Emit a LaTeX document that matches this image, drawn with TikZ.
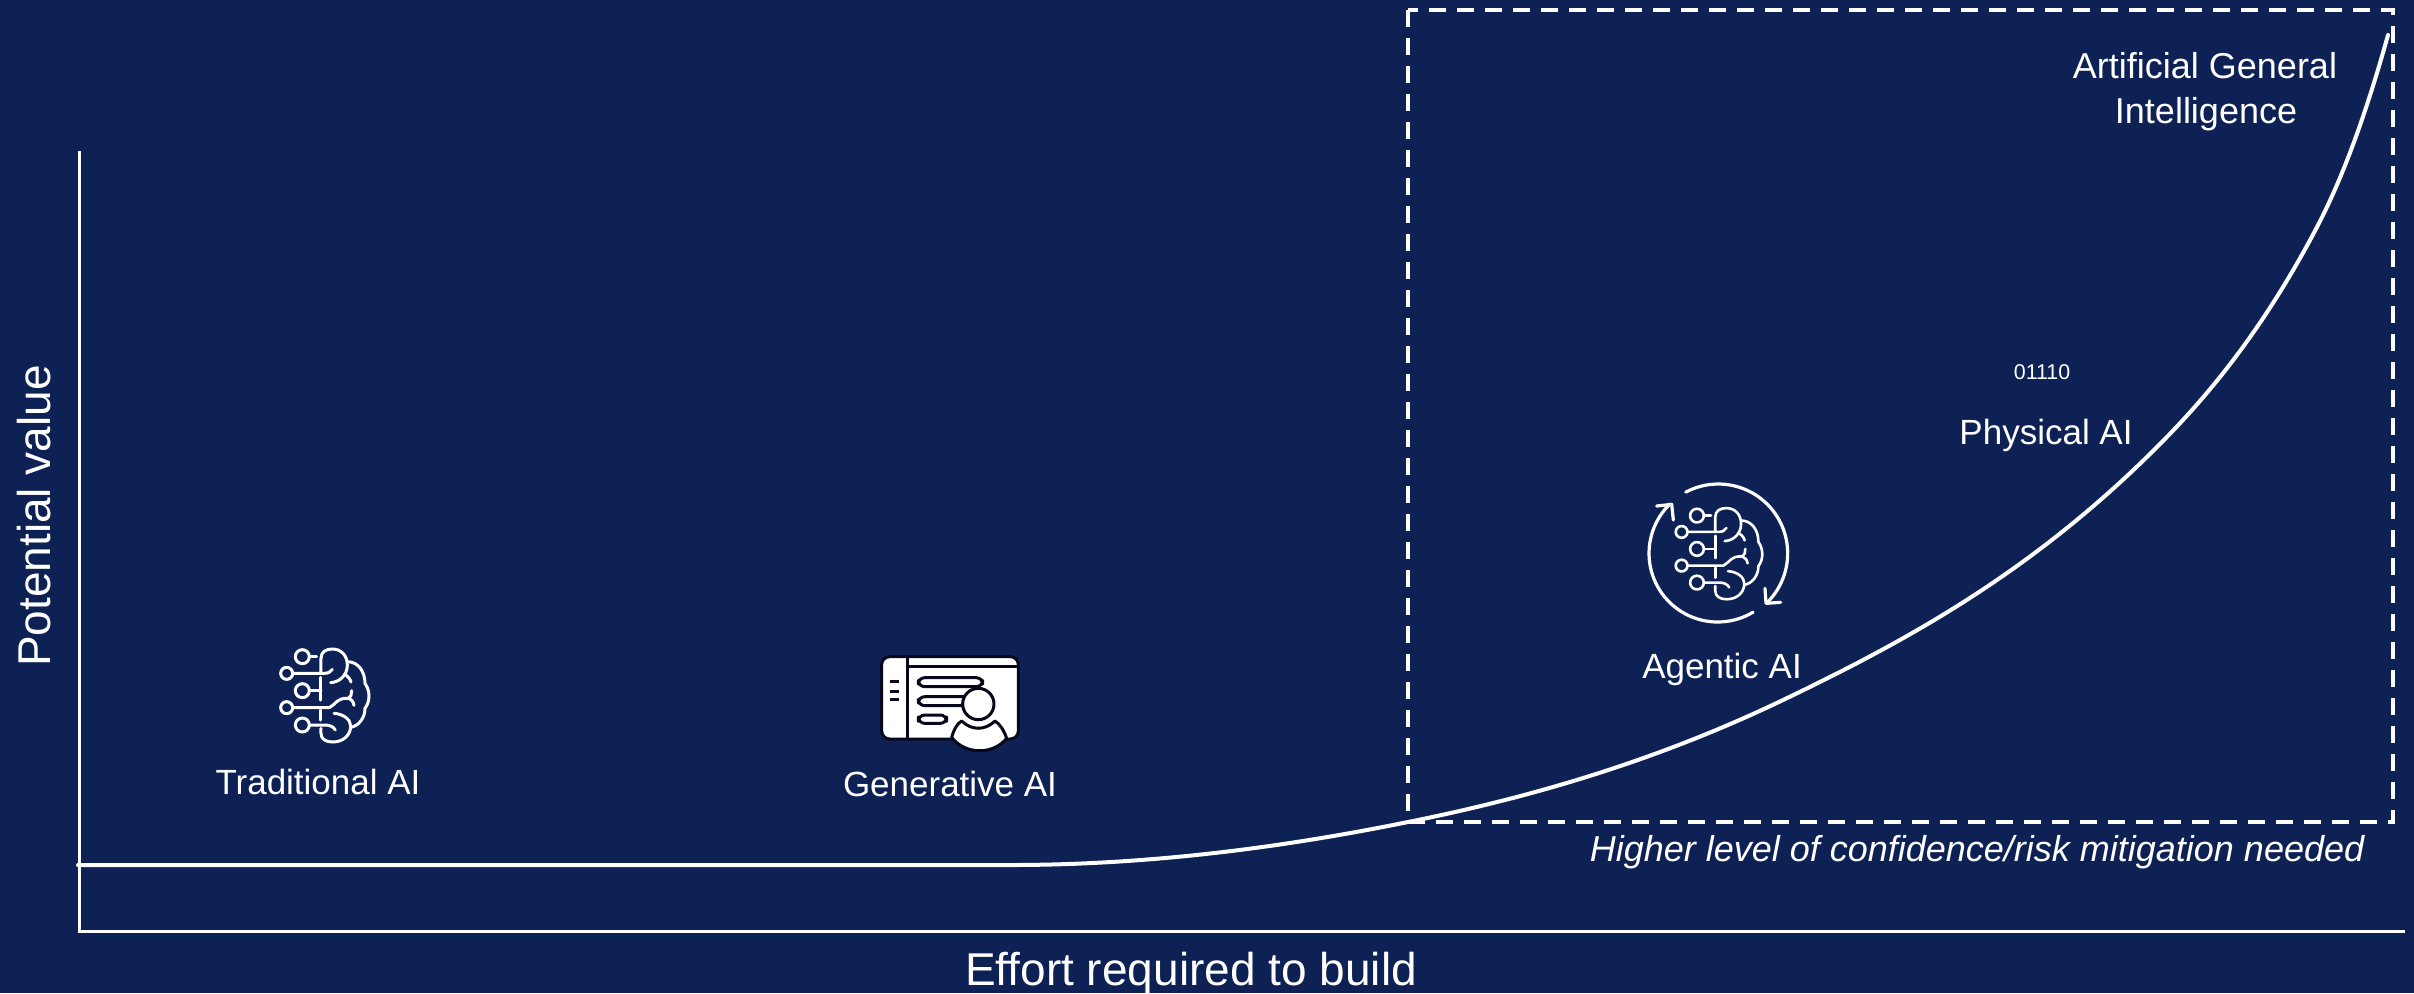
\documentclass[tikz,border=0pt]{standalone}
\usepackage{fontspec}
\setmainfont{Liberation Sans}
\definecolor{navy}{HTML}{0E2154}
\definecolor{ink}{HTML}{08081C}
\newcommand{\mybrain}{%
  \draw (157,110) circle[radius=21] (110,160) circle[radius=18] (157,212) circle[radius=21] (110,263) circle[radius=18] (157,315) circle[radius=21];
  \draw (178,110) -- (200,110);
  \draw (128,160) -- (222,160) .. controls (235,160) and (242,156) .. (247,148);
  \draw (178,212) -- (213,212);
  \draw (128,263) -- (238,263) .. controls (255,255) and (262,232) .. (295,235) .. controls (303,232) and (305,222) .. (305,212);
  \draw (295,235) .. controls (305,238) and (310,245) .. (312,256);
  \draw (178,315) -- (225,315) .. controls (240,315) and (250,320) .. (256,330);
  \draw (213,172) -- (213,240) (213,270) -- (213,300);
  \draw (213,160) -- (213,115) .. controls (213,95) and (228,87) .. (247,87) .. controls (272,87) and (292,105) .. (292,135) .. controls (292,165) and (270,186) .. (242,188);
  \draw (283,163) .. controls (293,168) and (300,175) .. (303,186);
  \draw (292,125) .. controls (325,125) and (345,155) .. (345,190) .. controls (362,215) and (360,245) .. (345,265) .. controls (345,295) and (325,318) .. (302,322);
  \draw (213,325) -- (213,340) .. controls (213,358) and (228,366) .. (248,366) .. controls (280,366) and (302,345) .. (302,318) .. controls (302,298) and (280,282) .. (252,280);
}
\tikzset{
  lab/.style={text=white,anchor=base,inner sep=0pt,align=center,font=\fontsize{17.5}{21}\selectfont},
  axislab/.style={lab,font=\fontsize{23}{27}\selectfont},
  axis/.style={draw=white,line width=1.5pt},
  icon/.style={draw=white,line width=1.5pt,line cap=round,line join=round},
}
\begin{document}
\begin{tikzpicture}[x=.5pt,y=-.5pt]
\useasboundingbox (0,0) rectangle (2414,993);
\fill[navy] (0,0) rectangle (2414,993);
% axes
\draw[axis] (79,151) -- (79,931) -- (2405,931);
% dashed box
\draw[white,line width=2.3pt,dash pattern=on 8.5pt off 5.5pt,dash phase=3.5pt] (1408,10) -- (2393,10) -- (2393,822) -- (1408,822) -- cycle;
% curve
\draw[white,line width=2pt,line cap=round] (78,865) -- (1010,865)
  .. controls (1143,865) and (1275,849) .. (1408,822)
  .. controls (1533,797) and (1658,760) .. (1783,700)
  .. controls (1908,640) and (2032,572) .. (2157,447)
  .. controls (2210,394) and (2264,328) .. (2317,227)
  .. controls (2341,181) and (2364,121) .. (2388,35);
% texts
\node[axislab] (xlabel) at (1191,985) {Effort required to build};
\node[axislab,rotate=90] (ylabel) at (50,516) {Potential value};
\node[lab] (trad) at (318,794) {Traditional AI};
\node[lab] (gen) at (950,796) {Generative AI};
\node[lab] (agentic) at (1722,678) {Agentic AI};
\node[lab] (physical) at (2046,444) {Physical AI};
\node[lab,font=\fontsize{10.7}{13}\selectfont] (bits) at (2042,379) {01110};
\node[lab,font=\fontsize{18}{22}\selectfont] (agi1) at (2205,78) {Artificial General};
\node[lab,font=\fontsize{18}{22}\selectfont] (agi2) at (2206,123) {Intelligence};
\node[lab,font=\fontsize{18}{22}\selectfont\itshape] (risk) at (1977,861) {Higher level of confidence/risk mitigation needed};
% traditional brain
\begin{scope}[shift={(250,620)},x=.5pt/3,y=-.5pt/3,icon]
\mybrain
\end{scope}
% agentic icon
\begin{scope}[shift={(1630,470)},x=.5pt/3,y=-.5pt/3,icon,line width=1.6pt]
\draw plot[domain=118:-45,samples=50,smooth] ({265+208*cos(\x)},{250-208*sin(\x)});
\draw plot[domain=-59:-226,samples=50,smooth] ({263+206*cos(\x)},{250-206*sin(\x)});
\draw (405,355) -- (408,400) -- (452,397);
\draw (80,108) -- (125,103) -- (130,150);
\begin{scope}[shift={(47,29)},x=.98*.5pt/3,y=-.98*.5pt/3,line width=1.3pt]
\mybrain
\end{scope}
\end{scope}
% generative icon
\begin{scope}[shift={(860,640)},x=.5pt/3,y=-.5pt/3,line width=1.5pt,draw=ink,line join=round]
\draw[fill=white,rounded corners=4pt] (65,50) rectangle (475,297);
\draw (143,50) -- (143,297) (143,80) -- (475,80);
\draw (90,125) -- (118,125) (90,153) -- (118,153) (90,178) -- (118,178);
\draw[fill=white,rounded corners=3.2pt] (175,113) rectangle (368,140);
\draw[fill=white,rounded corners=3.2pt] (175,170) rectangle (330,197);
\draw[fill=white,rounded corners=3.2pt] (175,225) rectangle (260,250);
\draw[fill=white] (355,192) circle[radius=47];
\draw[fill=white] (275,292) .. controls (282,268) and (290,252) .. (305,243)
  .. controls (335,272) and (375,272) .. (405,243)
  .. controls (420,252) and (432,272) .. (440,295)
  .. controls (400,345) and (315,345) .. (275,292) -- cycle;
\end{scope}
\end{tikzpicture}
\end{document}
